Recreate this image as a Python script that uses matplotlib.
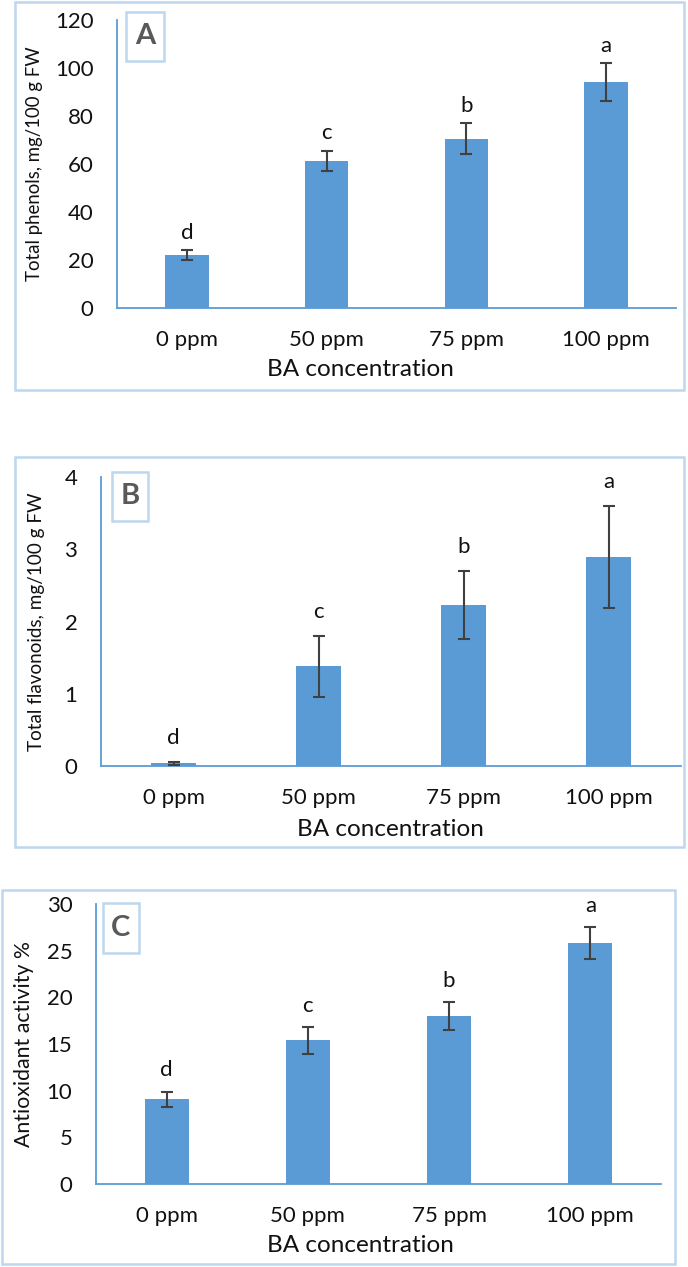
import numpy as np
import matplotlib
matplotlib.use("Agg")
import matplotlib.pyplot as plt
from matplotlib.patches import Rectangle

plt.rcParams["font.family"] = ["Lato", "DejaVu Sans"]

categories = ["0 ppm", "50 ppm", "75 ppm", "100 ppm"]
letters = ["d", "c", "b", "a"]

phenols = [22.0, 61.4, 70.6, 94.2]
phenols_err = [2.0, 4.2, 6.3, 8.0]

flavonoids = [0.04, 1.38, 2.23, 2.89]
flavonoids_err = [0.02, 0.42, 0.47, 0.71]

antioxidant = [9.1, 15.4, 18.0, 25.8]
antioxidant_err = [0.8, 1.43, 1.5, 1.7]

W, H = 688, 1267
fig = plt.figure(figsize=(W / 100, H / 100), dpi=100)

BAR = "#5B9BD5"
EDGE = "#BDD7EE"
AXC = "#5B9BD5"


def px_box(x0, y0, x1, y1, lw=1.5):
    fig.add_artist(Rectangle((x0 / W, 1 - y1 / H), (x1 - x0) / W, (y1 - y0) / H,
                             transform=fig.transFigure, fill=False,
                             ec=EDGE, lw=lw))


def panel(vals, errs, ymax, ystep, ylabel, tag, ax_px, box_px, tag_px,
          ylab_pos, xlab_pos, ylab_size, letter_off):
    left, right, top, bottom = ax_px
    px_box(*box_px, lw=1.8)
    ax = fig.add_axes([left / W, 1 - bottom / H, (right - left) / W, (bottom - top) / H])
    x = np.arange(len(categories))
    ax.bar(x, vals, width=0.31, color=BAR, zorder=2)
    ax.errorbar(x, vals, yerr=errs, fmt="none", ecolor="#404040",
                elinewidth=1.5, capsize=4.5, capthick=1.5, zorder=3)
    for xi, v, e, l in zip(x, vals, errs, letters):
        ax.annotate(l, (xi, v + e), xytext=(0, letter_off), textcoords="offset points",
                    ha="center", va="baseline", fontsize=16, color="#111111")
    ax.set_xlim(-0.5, len(categories) - 0.5)
    ax.set_ylim(0, ymax)
    ax.set_yticks(np.arange(0, ymax + ystep / 2, ystep))
    ax.set_xticks(x)
    ax.set_xticklabels(categories)
    ax.tick_params(length=0, labelsize=16, colors="#111111")
    ax.tick_params(axis="y", pad=17)
    ax.tick_params(axis="x", pad=16)
    for s in ["top", "right"]:
        ax.spines[s].set_visible(False)
    for s in ["left", "bottom"]:
        ax.spines[s].set_color(AXC)
        ax.spines[s].set_linewidth(1.3)
    ax.set_facecolor("none")

    ax.set_ylabel(ylabel, fontsize=ylab_size, color="#111111")
    ax.yaxis.set_label_coords(ylab_pos[0] / W, 1 - ylab_pos[1] / H, transform=fig.transFigure)
    ax.yaxis.label.set_va("center")
    ax.set_xlabel("BA concentration", fontsize=17.5, color="#111111")
    ax.xaxis.set_label_coords(xlab_pos[0] / W, 1 - xlab_pos[1] / H, transform=fig.transFigure)
    ax.xaxis.label.set_va("center")

    tx0, ty0, tx1, ty1 = tag_px
    px_box(tx0, ty0, tx1, ty1, lw=1.8)
    fig.text((tx0 + tx1) / 2 / W, 1 - (ty0 + ty1) / 2 / H, tag, ha="center", va="center",
             fontsize=21, fontweight="bold", color="#595959")
    return ax


panel(phenols, phenols_err, 120, 20, "Total phenols, mg/100 g FW", "A",
      (117, 676, 20, 308), (15, 2, 684, 390), (126, 12, 164, 61),
      (35, 164), (360, 370), 13.4, 8)

panel(flavonoids, flavonoids_err, 4, 1, "Total flavonoids, mg/100 g FW", "B",
      (101, 681, 477, 766), (15, 457, 684, 847), (112, 472, 148, 521),
      (37, 622), (390, 830), 13.6, 13)

panel(antioxidant, antioxidant_err, 30, 5, "Antioxidant activity %", "C",
      (96, 661, 904, 1184), (2, 890, 675, 1264), (103, 903, 139, 953),
      (24, 1044), (360, 1245), 15.3, 11)

fig.savefig("out.png", dpi=100)
